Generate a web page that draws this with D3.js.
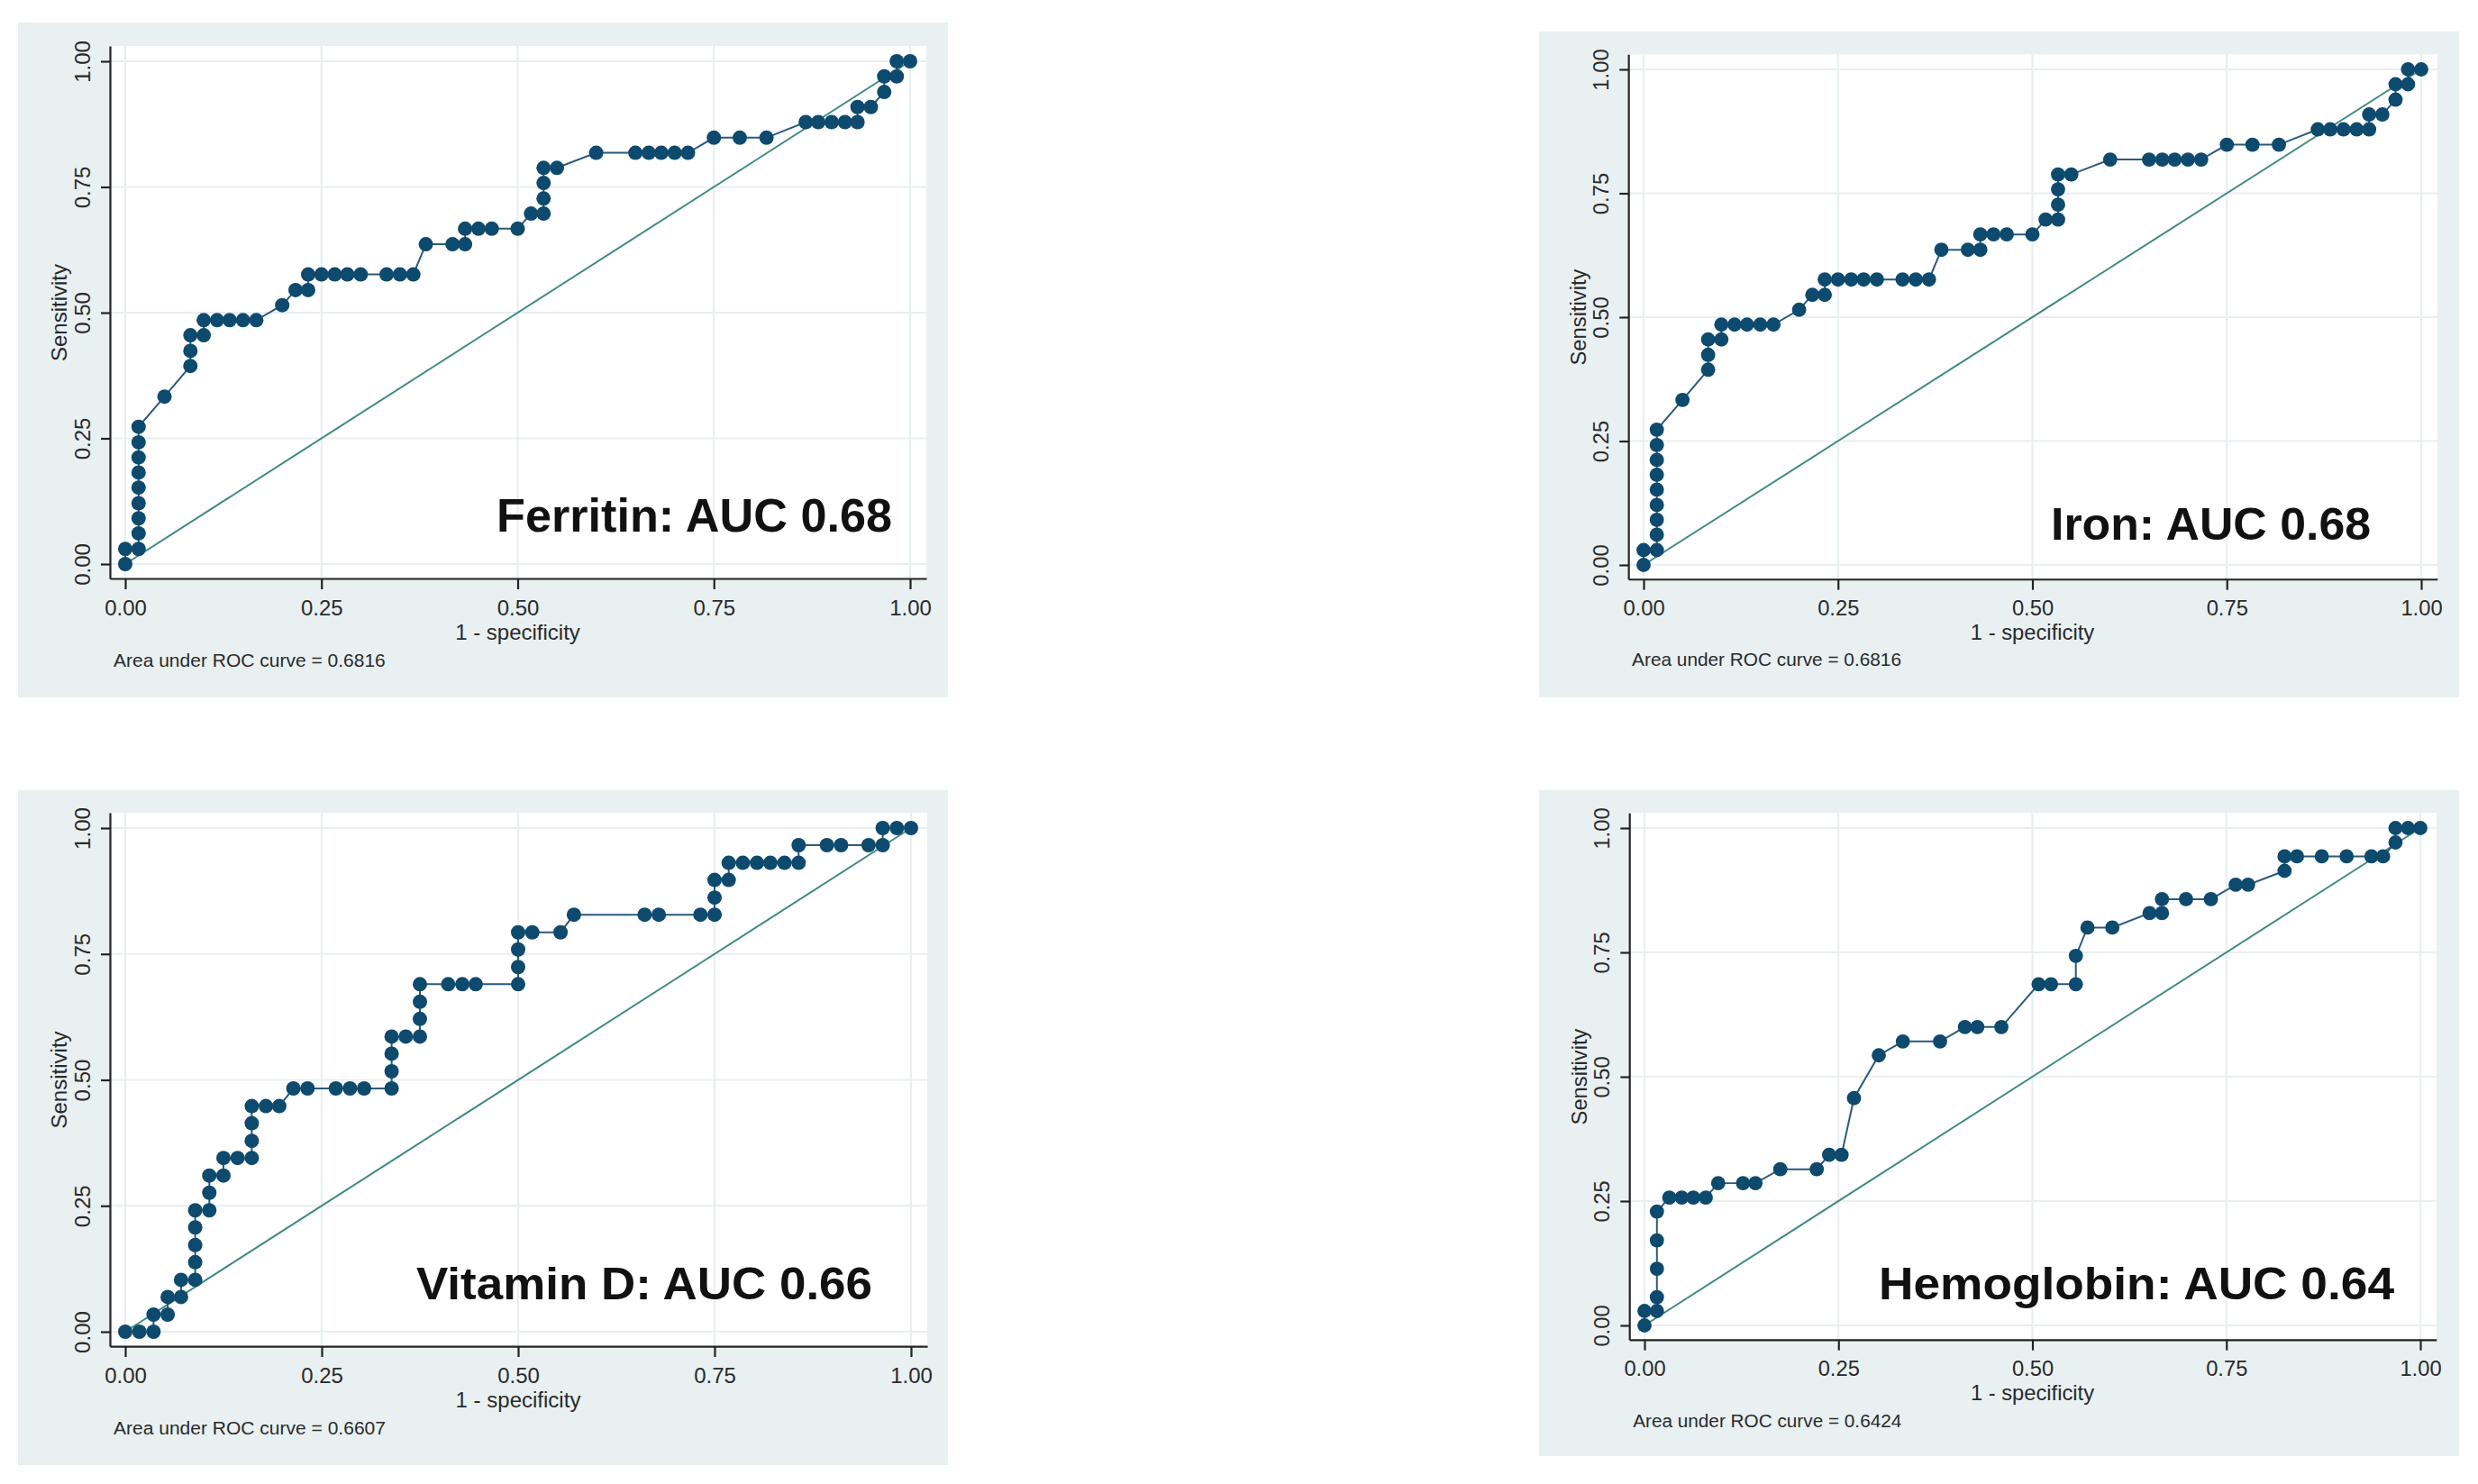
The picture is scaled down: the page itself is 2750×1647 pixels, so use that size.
<!DOCTYPE html>
<html>
<head>
<meta charset="utf-8">
<script src="https://cdn.jsdelivr.net/npm/d3@7/dist/d3.min.js"></script>
<style>
  html, body { margin: 0; padding: 0; background: #ffffff; }
  svg { display: block; }
</style>
</head>
<body>
<svg id="chart" width="2750" height="1647"></svg>
<script>
// ---------------- DATA ----------------
const tickValues = [0, 0.25, 0.5, 0.75, 1];
const tickLabels = ["0.00", "0.25", "0.50", "0.75", "1.00"];

const panelTitles = ["Ferritin: AUC 0.68", "Iron: AUC 0.68", "Vitamin D: AUC 0.66", "Hemoglobin: AUC 0.64"];
const aucNotes = ["Area under ROC curve = 0.6816", "Area under ROC curve = 0.6816",
                  "Area under ROC curve = 0.6607", "Area under ROC curve = 0.6424"];
const xTitle = "1 - specificity";
const yTitle = "Sensitivity";

const ferritinFPR = [0,0,.017,.017,.017,.017,.017,.017,.017,.017,.017,.05,.083,.083,.083,.1,.1,.117,.133,.15,.167,
  .2,.217,.233,.233,.25,.267,.283,.3,.333,.35,.367,.383,.417,.433,.433,.45,.467,.5,.517,.533,.533,.533,.533,.55,
  .6,.65,.667,.683,.7,.717,.75,.783,.817,.867,.883,.9,.917,.933,.933,.95,.967,.967,.983,.983,1];
const ferritinTPR = [0,.030,.030,.061,.091,.121,.152,.182,.212,.242,.273,.333,.394,.424,.455,.455,.485,.485,.485,.485,.485,
  .515,.545,.545,.576,.576,.576,.576,.576,.576,.576,.576,.636,.636,.636,.667,.667,.667,.667,.697,.697,.727,.758,.788,.788,
  .818,.818,.818,.818,.818,.818,.848,.848,.848,.879,.879,.879,.879,.879,.909,.909,.939,.970,.970,1,1];

const ironFPR = [0,0,.017,.017,.017,.017,.017,.017,.017,.017,.017,.05,.083,.083,.083,.1,.1,.117,.133,.15,.167,
  .2,.217,.233,.233,.25,.267,.283,.3,.333,.35,.367,.383,.417,.433,.433,.45,.467,.5,.517,.533,.533,.533,.533,.55,
  .6,.65,.667,.683,.7,.717,.75,.783,.817,.867,.883,.9,.917,.933,.933,.95,.967,.967,.983,.983,1];
const ironTPR = [0,.030,.030,.061,.091,.121,.152,.182,.212,.242,.273,.333,.394,.424,.455,.455,.485,.485,.485,.485,.485,
  .515,.545,.545,.576,.576,.576,.576,.576,.576,.576,.576,.636,.636,.636,.667,.667,.667,.667,.697,.697,.727,.758,.788,.788,
  .818,.818,.818,.818,.818,.818,.848,.848,.848,.879,.879,.879,.879,.879,.909,.909,.939,.970,.970,1,1];

const vitDFPR = [0,.018,.036,.036,.054,.054,.071,.071,.089,.089,.089,.089,.089,.107,.107,.107,.125,.125,.143,.161,
  .161,.161,.161,.179,.196,.214,.232,.268,.286,.304,.339,.339,.339,.339,.357,.375,.375,.375,.375,.411,
  .429,.446,.5,.5,.5,.5,.518,.554,.571,.661,.679,.732,.75,.75,.75,.768,.768,.786,.804,.821,
  .839,.857,.857,.893,.911,.946,.964,.964,.982,1];
const vitDTPR = [0,0,0,.034,.034,.069,.069,.103,.103,.138,.172,.207,.241,.241,.276,.310,.310,.345,.345,.345,
  .379,.414,.448,.448,.448,.483,.483,.483,.483,.483,.483,.517,.552,.586,.586,.586,.621,.655,.690,.690,
  .690,.690,.690,.724,.759,.793,.793,.793,.828,.828,.828,.828,.828,.862,.897,.897,.931,.931,.931,.931,
  .931,.931,.966,.966,.966,.966,.966,1,1,1];

const hbFPR = [0,0,.016,.016,.016,.016,.016,.032,.048,.063,.079,.095,.127,.143,.175,.222,.238,.254,.270,.302,.333,
  .381,.413,.429,.460,.508,.524,.556,.556,.571,.603,.651,.667,.667,.698,.730,.762,.778,.825,.825,.841,.873,
  .905,.937,.952,.968,.968,.984,1];
const hbTPR = [0,.029,.029,.057,.114,.171,.229,.257,.257,.257,.257,.286,.286,.286,.314,.314,.343,.343,.457,.543,.571,
  .571,.6,.6,.6,.686,.686,.686,.743,.8,.8,.829,.829,.857,.857,.857,.886,.886,.914,.943,.943,.943,.943,.943,
  .943,.971,1,1,1];

// ---------------- LAYOUT ----------------
const panels = [
  { fpr: ferritinFPR, tpr: ferritinTPR, title: panelTitles[0], note: aucNotes[0],
    x0: 139, x1: 1010, yb: 626, yt: 68, bg: [20, 25, 1052, 774],
    lab: { x: 990, y: 590, len: 439, fs: 52 } },
  { fpr: ironFPR, tpr: ironTPR, title: panelTitles[1], note: aucNotes[1],
    x0: 1824, x1: 2687, yb: 627, yt: 77, bg: [1708, 35, 2729, 774],
    lab: { x: 2631, y: 599, len: 355, fs: 50 } },
  { fpr: vitDFPR, tpr: vitDTPR, title: panelTitles[2], note: aucNotes[2],
    x0: 139, x1: 1011, yb: 1478, yt: 919, bg: [20, 877, 1052, 1626],
    lab: { x: 968, y: 1442, len: 506, fs: 50 } },
  { fpr: hbFPR, tpr: hbTPR, title: panelTitles[3], note: aucNotes[3],
    x0: 1825, x1: 2686, yb: 1471, yt: 919, bg: [1708, 877, 2729, 1616],
    lab: { x: 2657, y: 1442, len: 572, fs: 50 } }
];

const FONT = "'Liberation Sans', Arial, Helvetica, sans-serif";
const BG = "#e8f0f2";
const GRID = "#e9eff1";
const NAVY = "#0d4a6e";
const LINEC = "#2a5a7a";
const DIAG = "#3f8a80";
const AXIS = "#222222";

const svg = d3.select("#chart");

panels.forEach(p => {
  const g = svg.append("g");
  const wx = p.x1 - p.x0, wy = p.yb - p.yt;
  const s = wx / 871, sy = wy / 558;
  const padL = 17 * s, padR = 18 * s, padT = 17 * sy, padB = 16 * sy;

  const x = d3.scaleLinear().domain([-padL / wx, 1 + padR / wx]).range([p.x0 - padL, p.x1 + padR]);
  const y = d3.scaleLinear().domain([-padB / wy, 1 + padT / wy]).range([p.yb + padB, p.yt - padT]);
  const left = x.range()[0], right = x.range()[1], bottom = y.range()[0], top = y.range()[1];

  // panel background
  g.append("rect").attr("x", p.bg[0]).attr("y", p.bg[1])
    .attr("width", p.bg[2] - p.bg[0]).attr("height", p.bg[3] - p.bg[1]).attr("fill", BG);
  // plot region
  g.append("rect").attr("x", left).attr("y", top)
    .attr("width", right - left).attr("height", bottom - top).attr("fill", "#ffffff");

  // gridlines
  g.append("g").selectAll("line.gx").data(tickValues).join("line")
    .attr("x1", d => x(d)).attr("x2", d => x(d)).attr("y1", top).attr("y2", bottom)
    .attr("stroke", GRID).attr("stroke-width", 2.2 * s);
  g.append("g").selectAll("line.gy").data(tickValues).join("line")
    .attr("x1", left).attr("x2", right).attr("y1", d => y(d)).attr("y2", d => y(d))
    .attr("stroke", GRID).attr("stroke-width", 2.2 * s);

  // reference diagonal
  g.append("path")
    .attr("d", d3.line().x(d => x(d[0])).y(d => y(d[1]))([[0, 0], [1, 1]]))
    .attr("fill", "none").attr("stroke", DIAG).attr("stroke-width", 2 * s);

  // ROC curve
  const pts = p.fpr.map((v, i) => [v, p.tpr[i]]);
  g.append("path")
    .attr("d", d3.line().x(d => x(d[0])).y(d => y(d[1]))(pts))
    .attr("fill", "none").attr("stroke", LINEC).attr("stroke-width", 2 * s);
  g.append("g").selectAll("circle").data(pts).join("circle")
    .attr("cx", d => x(d[0])).attr("cy", d => y(d[1])).attr("r", 8 * s)
    .attr("fill", NAVY);

  // axes
  const xAxis = g.append("g").attr("transform", `translate(0,${bottom})`)
    .call(d3.axisBottom(x).tickValues(tickValues).tickFormat((d, i) => tickLabels[i])
      .tickSizeInner(12 * s).tickSizeOuter(0));
  const yAxis = g.append("g").attr("transform", `translate(${left},0)`)
    .call(d3.axisLeft(y).tickValues(tickValues).tickFormat((d, i) => tickLabels[i])
      .tickSizeInner(10 * s).tickSizeOuter(0));
  [xAxis, yAxis].forEach(a => {
    a.attr("font-family", FONT).attr("font-size", 24 * s);
    a.select(".domain").attr("stroke", AXIS).attr("stroke-width", 2.2 * s);
    a.selectAll(".tick line").attr("stroke", AXIS).attr("stroke-width", 2.2 * s);
    a.selectAll(".tick text").attr("fill", "#2a2a2a");
  });
  xAxis.selectAll(".tick text").attr("y", 41 * sy).attr("dy", 0);
  yAxis.selectAll(".tick text")
    .attr("transform", "rotate(-90)")
    .attr("x", 0).attr("y", -22 * s).attr("dy", 0)
    .attr("text-anchor", "middle");

  // axis titles
  g.append("text").attr("x", (p.x0 + p.x1) / 2).attr("y", bottom + 68 * sy)
    .attr("text-anchor", "middle").attr("font-family", FONT).attr("font-size", 24 * s)
    .attr("fill", "#2a2a2a").text(xTitle);
  g.append("text")
    .attr("transform", `translate(${left - 48 * s},${(p.yb + p.yt) / 2}) rotate(-90)`)
    .attr("text-anchor", "middle").attr("font-family", FONT).attr("font-size", 24 * s)
    .attr("fill", "#2a2a2a").text(yTitle);

  // note
  g.append("text").attr("x", left + 4 * s).attr("y", bottom + 98 * sy)
    .attr("font-family", FONT).attr("font-size", 21 * s).attr("fill", "#2a2a2a")
    .text(p.note);

  // big annotation
  g.append("text").attr("x", p.lab.x - p.lab.len).attr("y", p.lab.y)
    .attr("font-family", FONT).attr("font-weight", "bold").attr("font-size", p.lab.fs)
    .attr("textLength", p.lab.len).attr("lengthAdjust", "spacingAndGlyphs")
    .attr("fill", "#111111").text(p.title);
});
</script>
</body>
</html>
